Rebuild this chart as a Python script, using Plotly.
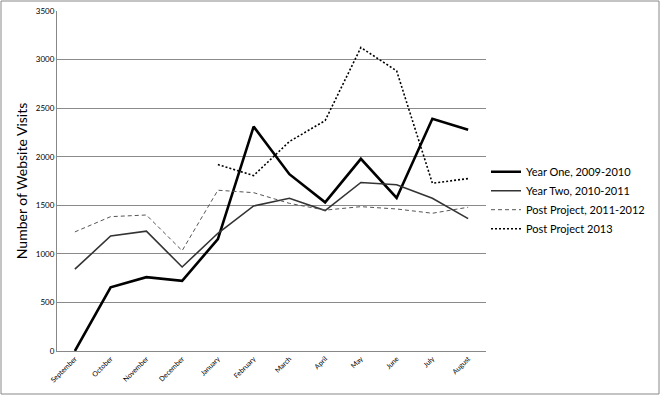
import plotly.graph_objects as go

months = ["September", "October", "November", "December", "January", "February",
          "March", "April", "May", "June", "July", "August"]
year_one = [0, 655, 760, 722, 1152, 2310, 1820, 1530, 1978, 1575, 2390, 2278]
year_two = [842, 1184, 1233, 865, 1212, 1493, 1572, 1445, 1735, 1712, 1572, 1363]
post_1112 = [1226, 1383, 1400, 1033, 1655, 1630, 1520, 1450, 1486, 1462, 1418, 1480]
post_2013 = [None, None, None, None, 1919, 1806, 2156, 2372, 3124, 2884, 1727, 1775]

fig = go.Figure()
fig.add_trace(go.Scatter(x=months, y=year_one, mode="lines", name="Year One, 2009-2010",
                         line=dict(color="black", width=2.6)))
fig.add_trace(go.Scatter(x=months, y=year_two, mode="lines", name="Year Two, 2010-2011",
                         line=dict(color="#333333", width=1.6)))
fig.add_trace(go.Scatter(x=months, y=post_1112, mode="lines", name="Post Project, 2011-2012",
                         line=dict(color="#555555", width=1, dash="4px,3px")))
fig.add_trace(go.Scatter(x=months, y=post_2013, mode="lines", name="Post Project 2013",
                         line=dict(color="black", width=1.6, dash="2px,2px")))

fig.update_layout(
    width=661, height=397,
    margin=dict(l=57, r=175, t=11, b=46),
    paper_bgcolor="white", plot_bgcolor="white",
    font=dict(family="Lato, Liberation Sans, sans-serif", color="black"),
    showlegend=True,
    legend=dict(x=1.0, y=0.57, xanchor="left", yanchor="top",
                font=dict(size=11), bgcolor="rgba(0,0,0,0)", tracegroupgap=0,
                itemwidth=30),
    xaxis=dict(type="category", tickangle=-45, tickfont=dict(size=7),
               showgrid=False, showline=True, linecolor="#888888", linewidth=1,
               ticks="", range=[-0.5, 11.5], automargin=False),
    yaxis=dict(range=[0, 3500], dtick=500, tickfont=dict(size=8),
               showgrid=True, gridcolor="#8a8a8a", gridwidth=1,
               showline=True, linecolor="#888888", linewidth=1, zeroline=False,
               ticks="", automargin=False,
               title=dict(text="Number of Website Visits", font=dict(size=14), standoff=4)),
    shapes=[dict(type="rect", xref="paper", yref="paper",
                 x0=(1 - 57) / 429, x1=(659 - 57) / 429,
                 y0=(351 - 394) / 340, y1=(351 - 1) / 340,
                 line=dict(color="#888888", width=1), fillcolor="rgba(0,0,0,0)")],
)

fig.write_html("out.html", config={"displayModeBar": False},
               post_script="document.body.style.margin='0';")
